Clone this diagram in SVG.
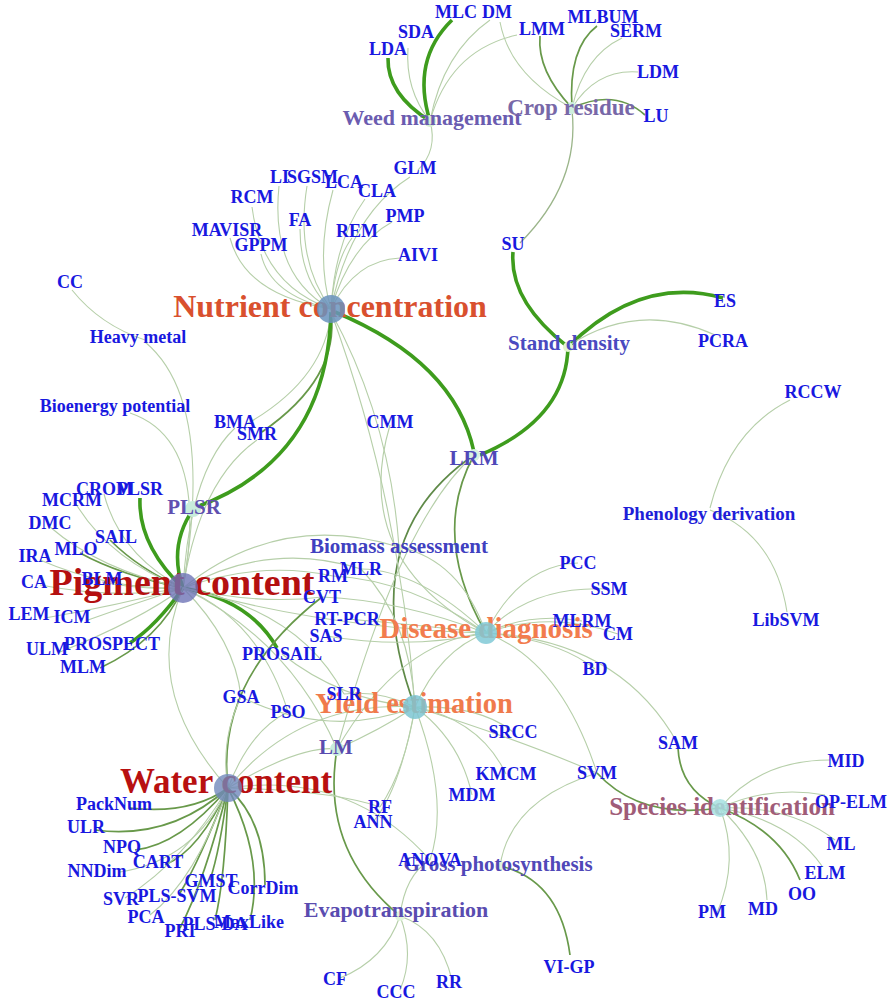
<svg xmlns="http://www.w3.org/2000/svg" width="890" height="1003" viewBox="0 0 890 1003">
<style>
text{font-family:"Liberation Serif","Times New Roman",serif;font-weight:bold;text-anchor:middle}
.lf{font-size:18px;fill:#1818e0}
.st{text-anchor:start}
.e path{fill:none}
.t{stroke:#b6cfa9;stroke-width:1.1}
.m{stroke:#68994a;stroke-width:1.7}
.k{stroke:#3e9c1d;stroke-width:3.6}
.mid{fill:#5a4cb4}
.hub{stroke:none}
</style>
<rect width="890" height="1003" fill="#ffffff"/>
<g id="connectors" class="e">
<path class="k" d="M388,58 Q387,94 430,121"/>
<path class="t" d="M408,48 Q405,90 430,121"/>
<path class="k" d="M452,20 Q411,60 430,121"/>
<path class="t" d="M490,20 Q443,53 430,121"/>
<path class="t" d="M517,35 Q450,50 430,121"/>
<path class="m" d="M540,36 Q537,71 572,108"/>
<path class="m" d="M597,26 Q568,48 572,108"/>
<path class="t" d="M622,38 Q584,56 572,108"/>
<path class="t" d="M638,72 Q596,69 572,108"/>
<path class="m" d="M572,108 Q615,88 645,115"/>
<path class="t" d="M500,22 Q510,75 572,108"/>
<path class="m" style="stroke:#9bb58a;stroke-width:1.3" d="M572,110 Q580,183 520,243"/>
<path class="t" d="M430,121 Q438,150 418,170"/>
<path class="k" d="M513,252 Q509,301 568,347"/>
<path class="k" d="M568,347 Q640,275 723,298"/>
<path class="t" d="M568,346 Q638,300 715,335"/>
<path class="k" d="M568,347 Q566,419 480,455"/>
<path class="k" d="M335,312 Q455,362 474,452"/>
<path class="m" d="M474,455 Q430,536 486,633"/>
<path class="m" style="stroke:#5f8a48" d="M474,455 Q352,539 415,707"/>
<path class="t" d="M474,455 Q400,520 337,749"/>
<path class="t" d="M252,207 Q262,285 331,309"/>
<path class="t" d="M230,238 Q245,295 331,309"/>
<path class="t" d="M261,254 Q270,295 331,309"/>
<path class="t" d="M279,186 Q270,275 331,309"/>
<path class="t" d="M307,186 Q295,260 331,309"/>
<path class="t" d="M300,229 Q300,280 331,309"/>
<path class="t" d="M333,190 Q315,255 331,309"/>
<path class="t" d="M365,199 Q335,240 331,309"/>
<path class="t" d="M410,177 Q350,215 331,309"/>
<path class="t" d="M352,238 Q335,260 331,309"/>
<path class="t" d="M392,222 Q350,245 331,309"/>
<path class="t" d="M400,258 Q355,260 331,309"/>
<path class="m" d="M331,312 Q340,378 262,432"/>
<path class="t" d="M331,312 Q325,380 245,425"/>
<path class="k" d="M331,312 Q327,460 194,508"/>
<path class="t" d="M331,312 Q390,420 399,547"/>
<path class="t" d="M331,312 Q400,500 415,707"/>
<path class="t" d="M390,425 Q350,560 486,633"/>
<path class="t" d="M72,290 Q100,325 145,340"/>
<path class="t" d="M145,342 Q215,400 183,588"/>
<path class="t" d="M130,413 Q210,440 183,588"/>
<path class="t" d="M235,428 Q190,470 183,588"/>
<path class="t" d="M257,440 Q200,480 183,588"/>
<path class="k" d="M194,508 Q168,545 183,588"/>
<path class="k" d="M140,498 Q138,545 183,588"/>
<path class="m" d="M110,540 Q140,570 183,588"/>
<path class="m" d="M80,553 Q120,575 183,588"/>
<path class="t" d="M50,527 Q100,570 183,588"/>
<path class="t" d="M76,504 Q110,560 183,588"/>
<path class="t" d="M104,494 Q120,555 183,588"/>
<path class="t" d="M40,560 Q110,590 183,588"/>
<path class="t" d="M40,585 Q120,600 183,588"/>
<path class="t" d="M102,582 Q140,590 183,588"/>
<path class="t" d="M45,618 Q120,605 183,588"/>
<path class="t" d="M88,620 Q130,605 183,588"/>
<path class="t" d="M60,652 Q140,620 183,588"/>
<path class="k" d="M130,643 Q157,625 183,588"/>
<path class="m" d="M100,668 Q160,640 183,588"/>
<path class="k" d="M183,588 Q250,600 277,648"/>
<path class="t" d="M183,588 Q270,540 361,569"/>
<path class="t" d="M183,588 Q260,560 333,576"/>
<path class="t" d="M183,588 Q280,510 399,547"/>
<path class="t" d="M183,588 Q260,605 322,597"/>
<path class="t" d="M183,588 Q331,629 486,633"/>
<path class="t" d="M183,588 Q140,690 228,788"/>
<path class="t" d="M183,588 Q235,640 241,697"/>
<path class="t" d="M183,588 Q260,620 288,712"/>
<path class="t" d="M183,588 Q300,610 344,694"/>
<path class="t" d="M183,588 Q290,640 337,749"/>
<path class="t" d="M486,633 Q420,570 361,569"/>
<path class="t" d="M486,633 Q410,580 333,576"/>
<path class="t" d="M486,633 Q400,600 322,597"/>
<path class="t" d="M486,633 Q420,625 347,619"/>
<path class="t" d="M486,633 Q410,650 326,636"/>
<path class="t" d="M486,633 Q460,560 399,547"/>
<path class="t" d="M486,633 Q560,660 597,773"/>
<path class="t" d="M486,633 Q620,640 678,744"/>
<path class="t" d="M486,633 Q560,640 595,669"/>
<path class="t" d="M486,633 Q550,610 618,634"/>
<path class="t" d="M486,633 Q530,612 582,621"/>
<path class="t" d="M486,633 Q530,585 609,589"/>
<path class="t" d="M486,633 Q520,565 578,563"/>
<path class="m" d="M228,788 Q215,680 322,597"/>
<path class="t" d="M228,788 Q220,740 241,697"/>
<path class="t" d="M228,788 Q250,730 288,712"/>
<path class="t" d="M228,788 Q300,700 415,707"/>
<path class="t" d="M241,697 Q330,740 415,707"/>
<path class="t" d="M228,788 Q300,745 337,749"/>
<path class="t" d="M337,749 Q380,730 415,707"/>
<path class="t" d="M337,749 Q400,640 486,633"/>
<path class="m" d="M337,749 Q320,850 400,916"/>
<path class="t" d="M228,788 Q350,770 430,860"/>
<path class="t" d="M228,788 Q330,790 380,807"/>
<path class="t" d="M282,654 Q340,700 415,707"/>
<path class="t" d="M415,707 Q405,770 380,807"/>
<path class="t" d="M415,707 Q400,790 373,822"/>
<path class="t" d="M415,707 Q460,740 472,795"/>
<path class="t" d="M415,707 Q450,800 430,860"/>
<path class="t" d="M415,707 Q480,720 506,774"/>
<path class="t" d="M415,707 Q480,705 513,732"/>
<path class="t" d="M415,707 Q520,740 597,773"/>
<path class="t" d="M415,707 Q440,650 486,633"/>
<path class="t" d="M415,707 Q380,690 344,694"/>
<path class="t" d="M415,707 Q410,620 361,569"/>
<path class="t" d="M790,400 Q730,430 710,508"/>
<path class="t" d="M710,510 Q775,535 787,612"/>
<path class="m" d="M597,773 Q640,820 720,808"/>
<path class="t" d="M597,773 Q510,800 500,866"/>
<path class="m" d="M678,748 Q680,790 720,808"/>
<path class="t" d="M720,808 Q760,760 830,760"/>
<path class="t" d="M720,808 Q770,785 825,795"/>
<path class="t" d="M720,808 Q790,805 835,840"/>
<path class="t" d="M720,808 Q790,820 822,866"/>
<path class="m" d="M720,808 Q780,830 800,880"/>
<path class="t" d="M720,808 Q765,850 767,900"/>
<path class="t" d="M720,808 Q740,860 717,913"/>
<path class="m" d="M500,866 Q560,880 570,955"/>
<path class="t" d="M400,916 Q405,875 430,860"/>
<path class="t" d="M400,916 Q385,960 340,978"/>
<path class="t" d="M400,916 Q415,955 400,990"/>
<path class="t" d="M400,916 Q440,930 452,980"/>
<path class="m" d="M228,788 Q190,815 130,808"/>
<path class="m" d="M228,788 Q170,840 95,830"/>
<path class="m" d="M228,788 Q180,845 135,850"/>
<path class="m" d="M228,788 Q200,850 165,865"/>
<path class="t" d="M228,788 Q195,860 120,872"/>
<path class="m" d="M228,788 Q220,850 210,880"/>
<path class="m" d="M228,788 Q265,820 265,885"/>
<path class="t" d="M228,788 Q185,860 125,898"/>
<path class="m" d="M228,788 Q200,860 180,893"/>
<path class="t" d="M228,788 Q195,880 150,915"/>
<path class="m" d="M228,788 Q205,880 180,928"/>
<path class="m" d="M228,788 Q225,880 215,920"/>
<path class="m" d="M228,788 Q265,860 250,920"/>
</g>

<g id="n-weed"><circle cx="430" cy="121" r="6" fill="#d6f0d2"/><text x="432" y="125" style="font-size:22px;fill:#6b5cb0">Weed management</text></g>
<g id="n-crop"><circle cx="572" cy="108" r="6" fill="#cdeedd"/><text x="571" y="115" style="font-size:23px;fill:#7868a8">Crop residue</text></g>
<g id="n-stand"><circle cx="568" cy="347" r="5" fill="#e2f5cc"/><text x="569" y="350" style="font-size:21px;fill:#4a4ac0">Stand density</text></g>
<g id="n-biomass"><circle cx="399" cy="548" r="4" fill="#e2f5cc"/><text x="399" y="553" style="font-size:21px;fill:#4040c0">Biomass assessment</text></g>
<g id="n-gross"><circle cx="500" cy="866" r="5" fill="#e2f5dc"/><text x="498" y="871" style="font-size:21px;fill:#5048b8">Gross photosynthesis</text></g>
<g id="n-evapo"><circle cx="400" cy="916" r="5" fill="#e2f5dc"/><text x="396" y="917" style="font-size:22px;fill:#5a4cb0">Evapotranspiration</text></g>
<g id="n-pheno"><text x="709" y="520" style="font-size:19px;fill:#1e1ed8">Phenology derivation</text></g>
<g id="n-plsr"><circle cx="193" cy="509" r="8" fill="#c8ecdc"/><text x="194" y="514" style="font-size:21px;fill:#6050b0">PLSR</text></g>
<g id="n-lrm"><circle cx="474" cy="455" r="6" fill="#d8f0e0"/><text x="474" y="465" style="font-size:21px;fill:#5048b8">LRM</text></g>
<g id="n-lm"><circle cx="337" cy="749" r="7" fill="#c9ecdc"/><text x="336" y="754" style="font-size:21px;fill:#5a4cb0">LM</text></g>

<g id="n-nutrient"><text x="330" y="317" style="font-size:32px;fill:#d9502e">Nutrient concentration</text><circle cx="331" cy="309" r="14" fill="#6a93bd" opacity="0.85"/></g>
<g id="n-pigment"><text x="182" y="595" style="font-size:38px;fill:#b41010">Pigment content</text><circle cx="183" cy="588" r="15" fill="#6e74b6" opacity="0.8"/></g>
<g id="n-water"><text x="226" y="793" style="font-size:35px;fill:#b81010">Water content</text><circle cx="228" cy="788" r="14" fill="#7088bb" opacity="0.8"/></g>
<g id="n-disease"><text x="486" y="638" style="font-size:29px;fill:#f27c4e">Disease diagnosis</text><circle cx="486" cy="633" r="11" fill="#80c9d6" opacity="0.85"/></g>
<g id="n-yield"><text x="414" y="713" style="font-size:28.5px;fill:#f07a4c">Yield estimation</text><circle cx="415" cy="707" r="12" fill="#7cc5d2" opacity="0.85"/></g>
<g id="n-species"><text x="722" y="815" style="font-size:25px;fill:#a05c78">Species identification</text><circle cx="720" cy="808" r="9" fill="#a6e0e0" opacity="0.85"/></g>

<g id="leaves" class="lf">
<g id="l-LDA"><text class="lf" x="388" y="55">LDA</text></g>
<g id="l-SDA"><text class="lf" x="416" y="38">SDA</text></g>
<g id="l-MLC"><text class="lf" x="456" y="18">MLC</text></g>
<g id="l-DM"><text class="lf" x="497" y="18">DM</text></g>
<g id="l-LMM"><text class="lf" x="542" y="35">LMM</text></g>
<g id="l-MLBUM"><text class="lf" x="603" y="23">MLBUM</text></g>
<g id="l-SERM"><text class="lf" x="636" y="37">SERM</text></g>
<g id="l-LDM"><text class="lf" x="658" y="78">LDM</text></g>
<g id="l-LU"><text class="lf" x="656" y="122">LU</text></g>
<g id="l-GLM"><text class="lf" x="415" y="174">GLM</text></g>
<g id="l-SU"><text class="lf" x="513" y="250">SU</text></g>
<g id="l-ES"><text class="lf" x="725" y="307">ES</text></g>
<g id="l-PCRA"><text class="lf" x="723" y="347">PCRA</text></g>
<g id="l-LI"><text class="lf st" x="270" y="183">LI</text></g>
<g id="l-SGSM"><text class="lf st" x="287" y="183">SGSM</text></g>
<g id="l-LCA"><text class="lf" x="344" y="188">LCA</text></g>
<g id="l-CLA"><text class="lf" x="377" y="197">CLA</text></g>
<g id="l-RCM"><text class="lf" x="252" y="203">RCM</text></g>
<g id="l-FA"><text class="lf" x="300" y="226">FA</text></g>
<g id="l-PMP"><text class="lf" x="405" y="222">PMP</text></g>
<g id="l-MAVISR"><text class="lf" x="227" y="236">MAVISR</text></g>
<g id="l-REM"><text class="lf" x="357" y="237">REM</text></g>
<g id="l-GPPM"><text class="lf" x="261" y="251">GPPM</text></g>
<g id="l-AIVI"><text class="lf" x="418" y="261">AIVI</text></g>
<g id="l-CC"><text class="lf" x="70" y="288">CC</text></g>
<g id="l-HM"><text class="lf" x="138" y="343">Heavy metal</text></g>
<g id="l-BP"><text class="lf" x="115" y="412">Bioenergy potential</text></g>
<g id="l-BMA"><text class="lf" x="235" y="428">BMA</text></g>
<g id="l-SMR"><text class="lf" x="257" y="440">SMR</text></g>
<g id="l-CMM"><text class="lf" x="390" y="428">CMM</text></g>
<g id="l-RCCW"><text class="lf" x="813" y="398">RCCW</text></g>
<g id="l-CROM"><text class="lf st" x="76" y="495">CROM</text></g>
<g id="l-PLSR2"><text class="lf st" x="117" y="495">PLSR</text></g>
<g id="l-MCRM"><text class="lf" x="72" y="506">MCRM</text></g>
<g id="l-DMC"><text class="lf" x="50" y="529">DMC</text></g>
<g id="l-SAIL"><text class="lf" x="116" y="543">SAIL</text></g>
<g id="l-MLO"><text class="lf" x="76" y="555">MLO</text></g>
<g id="l-IRA"><text class="lf" x="35" y="562">IRA</text></g>
<g id="l-CA"><text class="lf" x="34" y="588">CA</text></g>
<g id="l-BLM"><text class="lf" x="102" y="585">BLM</text></g>
<g id="l-LEM"><text class="lf" x="29" y="620">LEM</text></g>
<g id="l-ICM"><text class="lf" x="72" y="623">ICM</text></g>
<g id="l-ULM"><text class="lf" x="47" y="655">ULM</text></g>
<g id="l-PROSPECT"><text class="lf" x="112" y="650">PROSPECT</text></g>
<g id="l-MLM"><text class="lf" x="83" y="673">MLM</text></g>
<g id="l-MLR"><text class="lf" x="361" y="575">MLR</text></g>
<g id="l-RM"><text class="lf" x="333" y="582">RM</text></g>
<g id="l-CVT"><text class="lf" x="322" y="603">CVT</text></g>
<g id="l-RTPCR"><text class="lf" x="347" y="625">RT-PCR</text></g>
<g id="l-SAS"><text class="lf" x="326" y="642">SAS</text></g>
<g id="l-PROSAIL"><text class="lf" x="282" y="660">PROSAIL</text></g>
<g id="l-GSA"><text class="lf" x="241" y="703">GSA</text></g>
<g id="l-PSO"><text class="lf" x="288" y="718">PSO</text></g>
<g id="l-SLR"><text class="lf" x="344" y="700">SLR</text></g>
<g id="l-SRCC"><text class="lf" x="513" y="738">SRCC</text></g>
<g id="l-KMCM"><text class="lf" x="506" y="780">KMCM</text></g>
<g id="l-MDM"><text class="lf" x="472" y="801">MDM</text></g>
<g id="l-RF"><text class="lf" x="380" y="813">RF</text></g>
<g id="l-ANN"><text class="lf" x="373" y="828">ANN</text></g>
<g id="l-PCC"><text class="lf" x="578" y="569">PCC</text></g>
<g id="l-SSM"><text class="lf" x="609" y="595">SSM</text></g>
<g id="l-MLRM"><text class="lf" x="582" y="627">MLRM</text></g>
<g id="l-CM"><text class="lf" x="618" y="640">CM</text></g>
<g id="l-BD"><text class="lf" x="595" y="675">BD</text></g>
<g id="l-LibSVM"><text class="lf" x="786" y="626">LibSVM</text></g>
<g id="l-SVM"><text class="lf" x="597" y="779">SVM</text></g>
<g id="l-SAM"><text class="lf" x="678" y="749">SAM</text></g>
<g id="l-MID"><text class="lf" x="846" y="767">MID</text></g>
<g id="l-OPELM"><text class="lf" x="851" y="808">OP-ELM</text></g>
<g id="l-ML"><text class="lf" x="841" y="850">ML</text></g>
<g id="l-ELM"><text class="lf" x="825" y="879">ELM</text></g>
<g id="l-OO"><text class="lf" x="802" y="900">OO</text></g>
<g id="l-MD"><text class="lf" x="763" y="915">MD</text></g>
<g id="l-PM"><text class="lf" x="712" y="918">PM</text></g>
<g id="l-ANOVA"><text class="lf" x="430" y="866">ANOVA</text></g>
<g id="l-VIGP"><text class="lf" x="569" y="973">VI-GP</text></g>
<g id="l-CF"><text class="lf" x="335" y="985">CF</text></g>
<g id="l-CCC"><text class="lf" x="396" y="998">CCC</text></g>
<g id="l-RR"><text class="lf" x="449" y="988">RR</text></g>
<g id="l-PackNum"><text class="lf" x="114" y="810">PackNum</text></g>
<g id="l-ULR"><text class="lf" x="86" y="833">ULR</text></g>
<g id="l-NPQ"><text class="lf" x="122" y="853">NPQ</text></g>
<g id="l-CART"><text class="lf" x="158" y="868">CART</text></g>
<g id="l-NNDim"><text class="lf" x="97" y="877">NNDim</text></g>
<g id="l-GMST"><text class="lf" x="211" y="887">GMST</text></g>
<g id="l-CorrDim"><text class="lf" x="263" y="894">CorrDim</text></g>
<g id="l-SVR"><text class="lf" x="121" y="905">SVR</text></g>
<g id="l-PLSSVM"><text class="lf" x="177" y="902">PLS-SVM</text></g>
<g id="l-PCA"><text class="lf" x="146" y="923">PCA</text></g>
<g id="l-PRI"><text class="lf" x="180" y="937">PRI</text></g>
<g id="l-PLSDA"><text class="lf" x="215" y="930">PLS-DA</text></g>
<g id="l-MaxLike"><text class="lf" x="249" y="928">MaxLike</text></g>
</g>
</svg>
